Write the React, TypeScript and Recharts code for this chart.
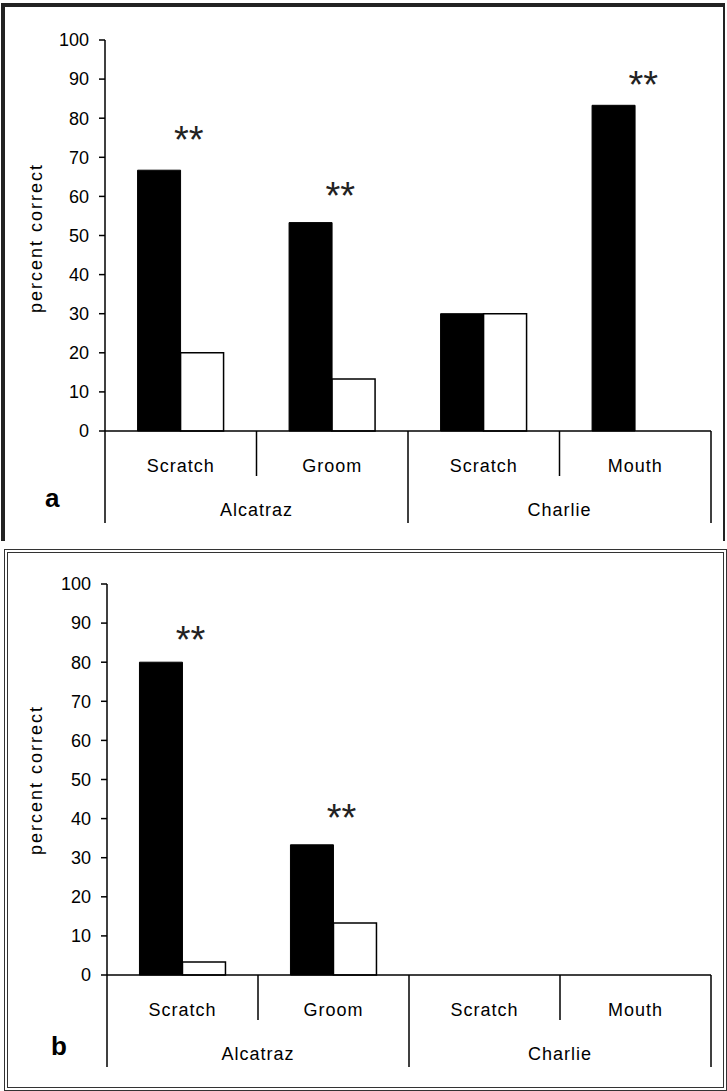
import { ComposedChart, Bar, Scatter, XAxis, YAxis } from 'recharts';

// categories along the x axis and the subject each belongs to
const behaviours = ['Scratch', 'Groom', 'Scratch', 'Mouth'];
const subjects = ['Alcatraz', 'Alcatraz', 'Charlie', 'Charlie'];
const yTicks = [0, 10, 20, 30, 40, 50, 60, 70, 80, 90, 100];

// panel a
const aBlack = [66.7, 53.3, 30, 83.3];
const aWhite = [20, 13.3, 30, 0];
const aStars = [76.6, 62.3, null, 90.8];

// panel b
const bBlack = [80, 33.3, 0, 0];
const bWhite = [3.3, 13.3, 0, 0];
const bStars = [88, 42.4, null, null];

const FONT = '"Liberation Sans", Arial, sans-serif';

const buildRows = (black: number[], white: number[], stars: (number | null)[]) =>
  behaviours.map((b, i) => ({
    key: `${subjects[i]}-${b}-${i}`,
    black: black[i],
    white: white[i],
    star: stars[i],
  }));

const makeTick = (band: number) => (props: any) => {
  const { x, y, index } = props;
  const left = x - band / 2;
  const right = x + band / 2;
  const longLen = 92;
  const shortLen = 45;
  const isGroupStart = index % 2 === 0;
  return (
    <g>
      <line x1={left} y1={y} x2={left} y2={y + (isGroupStart ? longLen : shortLen)} stroke="#000" strokeWidth={1.5} />
      {index === behaviours.length - 1 && (
        <line x1={right} y1={y} x2={right} y2={y + longLen} stroke="#000" strokeWidth={1.5} />
      )}
      <text x={x} y={y + 41} textAnchor="middle" fontSize={18} letterSpacing={1} fill="#000" fontFamily={FONT}>
        {behaviours[index]}
      </text>
      {isGroupStart && (
        <text x={right} y={y + 85} textAnchor="middle" fontSize={18} letterSpacing={1} fill="#000" fontFamily={FONT}>
          {subjects[index]}
        </text>
      )}
    </g>
  );
};

const StarShape = (props: any) => {
  const { cx, cy } = props;
  if (cx == null || cy == null) return <g />;
  const fs = 38;
  return (
    <text x={cx + 8} y={cy + fs * 0.57} textAnchor="middle" fontSize={fs} fill="#222" fontFamily={FONT}>
      **
    </text>
  );
};

interface PanelProps {
  rows: ReturnType<typeof buildRows>;
  height: number;
  top: number;
  axisWidth: number;
  right: number;
  bottom: number;
  labelY: number;
}

function Panel({ rows, height, top, axisWidth, right, bottom, labelY }: PanelProps) {
  const width = 727;
  const band = (width - axisWidth - right) / behaviours.length;
  return (
    <ComposedChart
      width={width}
      height={height}
      data={rows}
      margin={{ top, right, left: 0, bottom }}
      barCategoryGap="21.5%"
      barGap={0}
      style={{ fontFamily: FONT }}
    >
      <XAxis
        dataKey="key"
        height={100}
        tickSize={0}
        tickMargin={0}
        interval={0}
        axisLine={{ stroke: '#000', strokeWidth: 1.5 }}
        tickLine={false}
        tick={makeTick(band)}
      />
      <YAxis
        domain={[0, 100]}
        ticks={yTicks}
        width={axisWidth}
        tickSize={6}
        tickMargin={10}
        interval={0}
        axisLine={{ stroke: '#000', strokeWidth: 1.5 }}
        tickLine={{ stroke: '#000', strokeWidth: 1.5 }}
        tick={{ fill: '#000', fontSize: 18, fontFamily: FONT }}
        label={{
          content: () => (
            <text
              x={42}
              y={labelY}
              transform={`rotate(-90 42 ${labelY})`}
              textAnchor="middle"
              fontSize={18}
              letterSpacing={2}
              fill="#000"
              fontFamily={FONT}
            >
              percent correct
            </text>
          ),
        }}
      />
      <Bar dataKey="black" fill="#000" stroke="#000" strokeWidth={1} isAnimationActive={false} />
      <Bar dataKey="white" fill="#fff" stroke="#000" strokeWidth={1.5} isAnimationActive={false} />
      <Scatter dataKey="star" shape={<StarShape />} isAnimationActive={false} />
    </ComposedChart>
  );
}

export default function App() {
  return (
    <div style={{ position: 'absolute', left: 0, top: 0, width: 727, height: 1091, background: '#fff' }}>
      <div
        style={{
          position: 'absolute',
          left: 1,
          top: 3,
          width: 724,
          height: 538,
          boxSizing: 'border-box',
          borderTop: '4px solid #222',
          borderLeft: '4px solid #222',
          borderRight: '2px solid #222',
        }}
      />
      <div
        style={{
          position: 'absolute',
          left: 4,
          top: 549,
          width: 723,
          height: 542,
          boxSizing: 'border-box',
          border: '4px double #333',
        }}
      />
      <div style={{ position: 'absolute', left: 0, top: 0 }}>
        <Panel rows={buildRows(aBlack, aWhite, aStars)} height={545} top={40} axisWidth={105} right={16} bottom={14} labelY={238} />
      </div>
      <div style={{ position: 'absolute', left: 0, top: 545 }}>
        <Panel rows={buildRows(bBlack, bWhite, bStars)} height={546} top={39} axisWidth={107} right={16} bottom={16} labelY={235} />
      </div>
      <svg width={727} height={1091} style={{ position: 'absolute', left: 0, top: 0, pointerEvents: 'none' }}>
        <text x={45} y={507} fontSize={26} fontWeight="bold" fill="#000" fontFamily={FONT}>a</text>
        <text x={51} y={1055} fontSize={26} fontWeight="bold" fill="#000" fontFamily={FONT}>b</text>
      </svg>
    </div>
  );
}
